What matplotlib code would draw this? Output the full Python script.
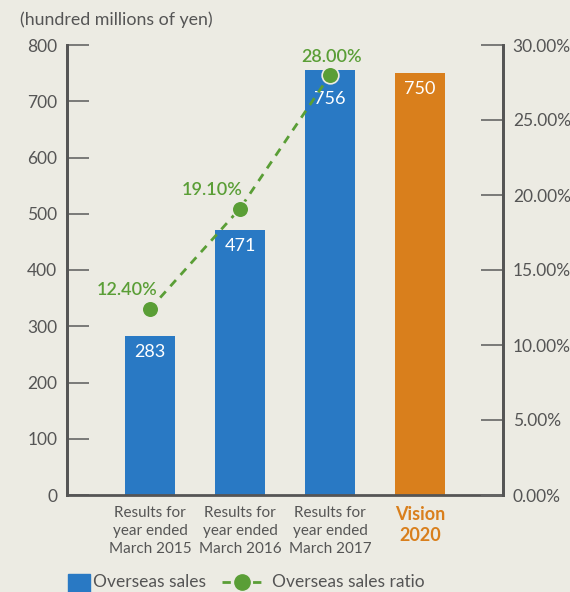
import matplotlib.pyplot as plt

plt.rcParams['font.family'] = ['Lato', 'DejaVu Sans']

categories = ["Results for\nyear ended\nMarch 2015", "Results for\nyear ended\nMarch 2016",
              "Results for\nyear ended\nMarch 2017", "Vision\n2020"]
sales = [283, 471, 756, 750]
ratio = [12.4, 19.1, 28.0]
ratio_labels = ["12.40%", "19.10%", "28.00%"]
left_ticks = [0, 100, 200, 300, 400, 500, 600, 700, 800]
right_ticks = [0, 5, 10, 15, 20, 25, 30]

bg = '#ecebe3'
blue = '#2979c4'
orange = '#d97f1c'
green = '#5a9e36'
axc = '#555555'
txt = '#555555'

fig = plt.figure(figsize=(5.7, 5.92), dpi=100, facecolor=bg)
ax = fig.add_axes([67/570, 1-495/592, 436/570, 450/592])
ax.set_facecolor(bg)
ax2 = ax.twinx()

x = list(range(len(categories)))
colors = [blue, blue, blue, orange]
ax.bar(x, sales, width=0.556, color=colors, zorder=2)
val_offset = [16, 16, 29, 16]
for xi, v, off in zip(x, sales, val_offset):
    ax.text(xi, v - off * 800 / 450, str(v), ha='center', va='center', color='white', fontsize=13)

ax.set_xlim(-0.922, 3.922)
ax.set_ylim(0, 800)
ax.set_yticks(left_ticks)
ax.set_xticks(x)
ax.set_xticklabels(categories, fontsize=11, color=txt, linespacing=1.35)
lbls = ax.get_xticklabels()
lbls[-1].set_color(orange)
lbls[-1].set_fontweight('bold')
lbls[-1].set_fontsize(13)
lbls[-1].set_linespacing(1.3)
ax.tick_params(axis='x', length=0, pad=8)
ax.tick_params(axis='y', direction='in', length=16, width=1.2, color='#666666',
               labelsize=12.5, labelcolor=txt, pad=7)

ax2.set_ylim(0, 30)
ax2.set_yticks(right_ticks)
ax2.set_yticklabels(["%.2f%%" % t for t in right_ticks])
ax2.tick_params(axis='y', direction='in', length=16, width=1.2, color='#666666',
                labelsize=12.5, labelcolor=txt, pad=7)

ax2.plot(x[:3], ratio, color=green, linestyle=(0, (3, 2.5)), linewidth=2,
         marker='o', markersize=12, markerfacecolor=green,
         markeredgecolor=bg, markeredgewidth=1.2, zorder=3)
label_pos = [(-0.25, 0.75), (-0.31, 0.7), (0.02, 0.7)]
for xi, r, s, (dx, dy) in zip(x, ratio, ratio_labels, label_pos):
    ax2.text(xi + dx, r + dy, s, ha='center', va='bottom', color=green,
             fontsize=13, fontweight='semibold')

for a in (ax, ax2):
    a.spines['top'].set_visible(False)
    for side in ('left', 'right', 'bottom'):
        a.spines[side].set_color(axc)
        a.spines[side].set_linewidth(2)
ax2.spines['bottom'].set_visible(False)

fig.text(20/570, 1-20/592, "(hundred millions of yen)", fontsize=12.8, color=txt,
         va='center', ha='left')

# legend
fig.patches.append(plt.Rectangle((68/570, 0), 22/570, 18/592,
                                 transform=fig.transFigure, color=blue))
fig.text(93/570, 1-582/592, "Overseas sales", fontsize=12.5, color=txt, va='center')
fig.lines.append(plt.Line2D([222/570, 262/570], [1-582/592, 1-582/592],
                            transform=fig.transFigure, color=green,
                            linestyle=(0, (3, 2.5)), linewidth=2))
fig.lines.append(plt.Line2D([242/570], [1-582/592], transform=fig.transFigure,
                            color=green, marker='o', markersize=11))
fig.text(272/570, 1-582/592, "Overseas sales ratio", fontsize=12.5, color=txt, va='center')

fig.savefig('out.png', dpi=100, facecolor=bg)
